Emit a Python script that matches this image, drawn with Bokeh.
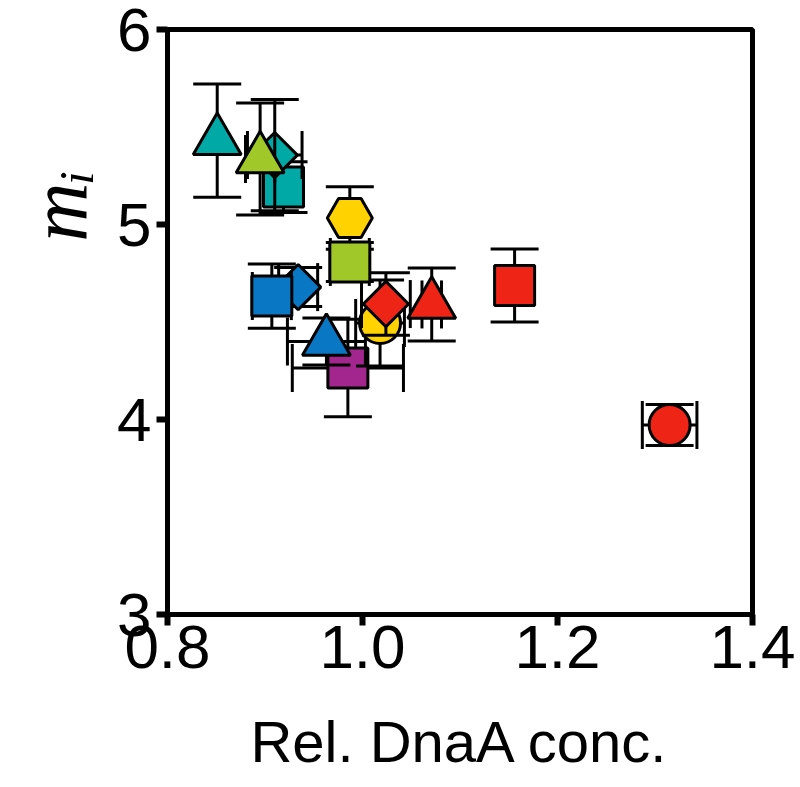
import math
from bokeh.plotting import figure
from bokeh.models import FixedTicker, PrintfTickFormatter, Title
from bokeh.embed import file_html
from bokeh.resources import INLINE

# ---- data ----
names   = ["purple_sq", "blue_tri", "yellow_circ", "red_dia", "red_tri", "red_sq",
           "red_circ", "blue_dia", "blue_sq", "yellow_hex", "green_sq", "teal_sq",
           "teal_dia", "green_tri", "teal_tri"]
x_vals  = [0.985, 0.963, 1.018, 1.024, 1.071, 1.156, 1.315, 0.934, 0.907, 0.987, 0.987, 0.919, 0.910, 0.895, 0.851]
y_vals  = [4.264, 4.400, 4.495, 4.592, 4.590, 4.687, 3.972, 4.679, 4.633, 5.033, 4.808, 5.192, 5.356, 5.336, 5.430]
x_errs  = [0.057, 0.040, 0.025, 0.025, 0.010, 0.000, 0.028, 0.020, 0.020, 0.000, 0.020, 0.000, 0.028, 0.015, 0.000]
y_errs  = [0.250, 0.120, 0.220, 0.160, 0.187, 0.187, 0.105, 0.100, 0.165, 0.160, 0.100, 0.130, 0.285, 0.287, 0.290]
shapes  = ["square", "triangle", "circle", "diamond", "triangle", "square", "circle", "diamond",
           "square", "hex", "square", "square", "diamond", "triangle", "triangle"]
x_ticks = [0.8, 1.0, 1.2, 1.4]
y_ticks = [3, 4, 5, 6]
x_label = "Rel. DnaA conc."
y_label = "m\u1d62"

# ---- styles ----
PALETTE = {"purple": "#A2268E", "blue": "#0A77C4", "yellow": "#FFD200", "red": "#EE2516",
           "teal": "#00A8A6", "green": "#A0C828"}
SHAPE_STYLE = {  # bokeh marker, size, angle
    "square": ("square", 40, 0.0),
    "triangle": ("triangle", 48, 0.0),
    "circle": ("circle", 41, 0.0),
    "diamond": ("square", 32, math.pi / 4),
    "hex": ("hex", 45, 0.0),
}
CAP = 48
LW = 3

p = figure(frame_width=585, frame_height=585, x_range=(0.8, 1.4), y_range=(3, 6),
           output_backend="svg", toolbar_location=None,
           min_border_left=167, min_border_top=29, min_border_right=47, min_border_bottom=171)
p.background_fill_color = "white"
p.border_fill_color = "white"
p.grid.visible = False
p.outline_line_color = "black"
p.outline_line_width = 5

for ax in (p.xaxis[0], p.yaxis[0]):
    ax.axis_line_width = 5
    ax.major_tick_line_width = 6
    ax.major_tick_in = 0
    ax.major_tick_out = 11
    ax.minor_tick_line_color = None
    ax.major_label_text_font = "Liberation Sans"
    ax.major_label_text_font_size = "62px"
    ax.major_label_text_color = "black"

p.xaxis.ticker = FixedTicker(ticks=x_ticks)
p.yaxis.ticker = FixedTicker(ticks=y_ticks)
p.xaxis.formatter = PrintfTickFormatter(format="%.1f")
p.yaxis.formatter = PrintfTickFormatter(format="%d")
p.xaxis.major_label_standoff = 0
p.yaxis.major_label_standoff = 5

p.xaxis.axis_label = x_label
p.xaxis.axis_label_text_font = "Liberation Sans"
p.xaxis.axis_label_text_font_size = "58px"
p.xaxis.axis_label_text_font_style = "normal"
p.xaxis.axis_label_text_color = "black"
p.xaxis.axis_label_standoff = 38

for i, nm in enumerate(names):
    x, y, xe, ye = x_vals[i], y_vals[i], x_errs[i], y_errs[i]
    color = PALETTE[nm.split("_")[0]]
    if ye > 0:
        p.segment(x0=[x], y0=[y - ye], x1=[x], y1=[y + ye], line_color="black", line_width=LW)
        p.scatter(x=[x, x], y=[y - ye, y + ye], marker="dash", size=CAP,
                  line_color="black", line_width=LW)
    if xe > 0:
        p.segment(x0=[x - xe], y0=[y], x1=[x + xe], y1=[y], line_color="black", line_width=LW)
        p.scatter(x=[x - xe, x + xe], y=[y, y], marker="dash", size=CAP, angle=math.pi / 2,
                  line_color="black", line_width=LW)
    mk, sz, ang = SHAPE_STYLE[shapes[i]]
    p.scatter(x=[x], y=[y], marker=mk, size=sz, angle=ang, fill_color=color,
              line_color="black", line_width=LW)

# y-axis label m_i as a left-side title (annotations are clipped to the frame)
p.add_layout(Title(text=y_label, align="right", offset=140, vertical_align="top",
                   standoff=18, text_font="Liberation Serif", text_font_style="italic",
                   text_font_size="82px", text_color="black"), "left")

open("out.html", "w").write(file_html(p, INLINE))
